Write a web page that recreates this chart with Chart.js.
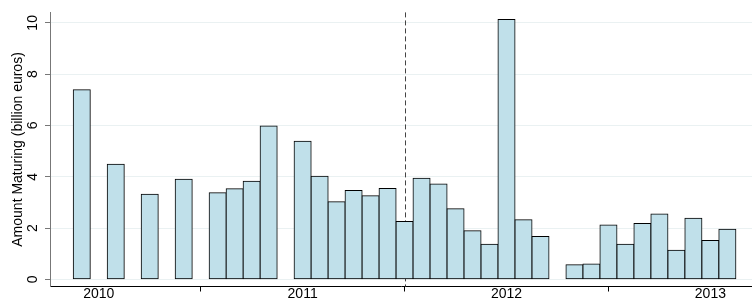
<!DOCTYPE html>
<html>
<head>
<meta charset="utf-8">
<script src="https://cdn.jsdelivr.net/npm/chart.js@4.4.1/dist/chart.umd.min.js"></script>
<style>
    body { margin: 0; background: #fff; }
    canvas { display: block; }
</style>
</head>
<body>
<canvas id="chart" width="752" height="300"></canvas>
<script>
// months with an amount maturing (missing months = no bar)
const months = [
    '2010-06', '2010-08', '2010-10', '2010-12',
    '2011-02', '2011-03', '2011-04', '2011-05',
    '2011-07', '2011-08', '2011-09', '2011-10', '2011-11', '2011-12',
    '2012-01', '2012-02', '2012-03', '2012-04', '2012-05', '2012-06', '2012-07', '2012-08', '2012-09',
    '2012-11', '2012-12',
    '2013-01', '2013-02', '2013-03', '2013-04', '2013-05', '2013-06', '2013-07', '2013-08',
];
const amounts = [
    7.39, 4.49, 3.32, 3.90,
    3.38, 3.53, 3.83, 5.98,
    5.38, 4.02, 3.03, 3.46, 3.26, 3.54,
    2.26, 3.94, 3.72, 2.75, 1.90, 1.37, 10.13, 2.32, 1.67,
    0.57, 0.60,
    2.12, 1.37, 2.18, 2.55, 1.14, 2.38, 1.52, 1.95,
];
const yearLabels = ['2010', '2011', '2012', '2013'];
const yearLabelMonths = ['2010-07', '2011-07', '2012-07', '2013-07'];
const yearTickMonths = ['2011-01', '2012-01', '2013-01'];
const yTicks = [0, 2, 4, 6, 8, 10];
const markerMonth = '2012-01';

// month -> position on the x axis (0 = jun 2010)
const monthIndex = (m) => {
    const [y, mo] = m.split('-').map(Number);
    return (y - 2010) * 12 + (mo - 6);
};

const labelPos = yearLabelMonths.map(monthIndex);
const tickPos = yearTickMonths.map(monthIndex);

Chart.defaults.font.family = '"Liberation Sans", Arial, Helvetica, sans-serif';
Chart.defaults.font.size = 14;
Chart.defaults.color = '#000';

// dashed vertical line, drawn behind the bars
const markerLine = {
    id: 'markerLine',
    beforeDatasetsDraw(chart) {
        const { ctx, chartArea, scales } = chart;
        const x = Math.round(scales.x.getPixelForValue(monthIndex(markerMonth))) + 0.5;
        ctx.save();
        ctx.strokeStyle = '#444';
        ctx.lineWidth = 1;
        ctx.setLineDash([5, 3]);
        ctx.beginPath();
        ctx.moveTo(x, chartArea.top);
        ctx.lineTo(x, chartArea.bottom);
        ctx.stroke();
        ctx.restore();
    },
};

new Chart(document.getElementById('chart'), {
    type: 'bar',
    data: {
        datasets: [{
            label: 'Amount Maturing',
            data: months.map((m, i) => ({ x: monthIndex(m), y: amounts[i] })),
            backgroundColor: '#c0e0ea',
            borderColor: '#000',
            borderWidth: 1,
            borderSkipped: false,
            inflateAmount: 0.5,
            barPercentage: 1,
            categoryPercentage: 1,
        }],
    },
    options: {
        responsive: false,
        animation: false,
        devicePixelRatio: 1,
        layout: { padding: { top: 6, left: 0, right: 0, bottom: 0 } },
        plugins: {
            legend: { display: false },
            tooltip: { enabled: false },
        },
        scales: {
            x: {
                type: 'linear',
                offset: false,
                min: -1.87,
                max: 39.45,
                afterBuildTicks: (scale) => {
                    scale.ticks = [...labelPos, ...tickPos].sort((a, b) => a - b).map(v => ({ value: v }));
                },
                afterFit: (scale) => { scale.height = 13.5; },
                ticks: {
                    autoSkip: false,
                    maxRotation: 0,
                    padding: -6,
                    callback: (value) => {
                        const i = labelPos.indexOf(value);
                        return i >= 0 ? yearLabels[i] : '';
                    },
                },
                grid: {
                    offset: false,
                    drawOnChartArea: false,
                    tickLength: 5,
                    tickColor: (ctx) => (ctx.tick && tickPos.includes(ctx.tick.value)) ? '#000' : 'rgba(0,0,0,0)',
                },
                border: { display: true, color: '#000', width: 1 },
            },
            y: {
                min: -0.278,
                max: 10.408,
                afterBuildTicks: (scale) => {
                    scale.ticks = yTicks.map(v => ({ value: v }));
                },
                afterFit: (scale) => { scale.width = 50; },
                ticks: {
                    minRotation: 90,
                    maxRotation: 90,
                    crossAlign: 'center',
                    padding: 4,
                },
                grid: {
                    color: '#eaf1f2',
                    tickColor: '#777',
                    tickLength: 5,
                },
                border: { display: true, color: '#777', width: 1 },
                title: {
                    display: true,
                    text: 'Amount Maturing (billion euros)',
                    font: { size: 14 },
                    padding: { top: 10, bottom: 0 },
                },
            },
        },
    },
    plugins: [markerLine],
});
</script>
</body>
</html>
